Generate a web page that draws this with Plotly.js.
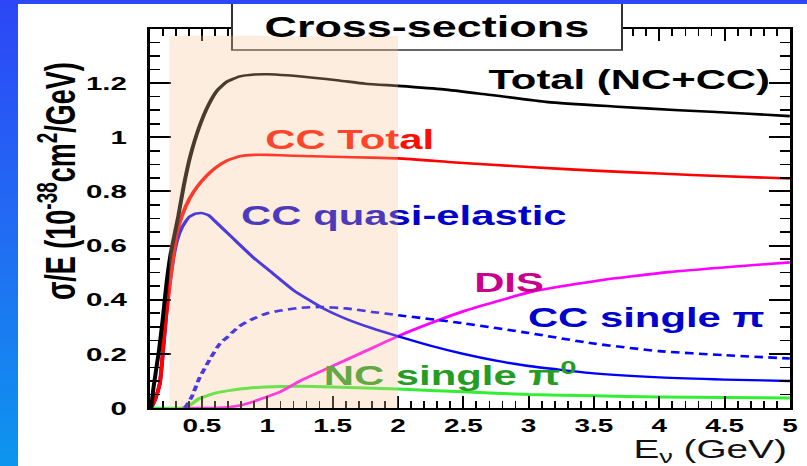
<!DOCTYPE html>
<html><head><meta charset="utf-8">
<script src="https://cdn.plot.ly/plotly-3.0.1.min.js"></script>
<style>
html,body{margin:0;padding:0;}
body{width:807px;height:466px;overflow:hidden;position:relative;background:linear-gradient(180deg,#2c47f6 0%,#2070f2 55%,#0c95ee 100%);}
#panel{position:absolute;left:18px;top:4px;width:789px;height:462px;background:#fff;overflow:hidden;}
#chart{width:509px;height:462px;transform:scaleX(1.55);transform-origin:0 0;}
</style></head>
<body><div id="panel"><div id="chart"></div></div>
<script>
// ---- data (E in GeV, sigma/E in 1e-38 cm^2/GeV) ----
const eTotal   = [0.11,0.13,0.171,0.2,0.228,0.26,0.317,0.36,0.41,0.48,0.55,0.62,0.69,0.79,0.9,1.0,1.15,1.35,1.55,1.75,2.0,2.35,2.65,3.15,3.65,4.15,4.65,5.0];
const sTotal   = [0.0,0.08,0.214,0.33,0.46,0.57,0.705,0.82,0.93,1.04,1.12,1.175,1.205,1.225,1.232,1.233,1.229,1.22,1.21,1.198,1.19,1.177,1.16,1.13,1.114,1.10,1.088,1.078];

const eCC      = [0.11,0.14,0.177,0.202,0.225,0.253,0.28,0.304,0.35,0.406,0.47,0.534,0.6,0.687,0.79,0.9,1.0,1.2,1.5,1.8,2.0,2.5,3.0,3.5,4.0,4.5,5.0];
const sCC      = [0.0,0.03,0.09,0.214,0.34,0.46,0.56,0.64,0.715,0.775,0.822,0.857,0.886,0.913,0.93,0.935,0.935,0.932,0.928,0.925,0.922,0.905,0.89,0.877,0.866,0.856,0.848];

const eQE      = [0.11,0.14,0.177,0.202,0.225,0.253,0.28,0.31,0.35,0.4,0.45,0.5,0.55,0.6,0.73,0.89,1.04,1.2,1.42,1.6,1.8,2.0,2.25,2.5,2.75,3.0,3.5,4.0,4.5,5.0];
const sQE      = [0.0,0.03,0.09,0.214,0.34,0.46,0.55,0.62,0.67,0.705,0.718,0.72,0.712,0.69,0.63,0.557,0.498,0.435,0.37,0.33,0.295,0.265,0.23,0.2,0.175,0.155,0.128,0.113,0.105,0.10];

const eSPi     = [0.37,0.42,0.48,0.56,0.64,0.69,0.78,0.87,1.0,1.1,1.25,1.4,1.6,1.8,2.0,2.5,3.0,3.5,4.0,4.5,5.0];
const sSPi     = [0.0,0.04,0.11,0.18,0.24,0.26,0.30,0.325,0.35,0.36,0.37,0.373,0.368,0.355,0.343,0.313,0.277,0.238,0.21,0.195,0.183];

const eDIS     = [0.35,0.5,0.7,0.8,0.93,1.1,1.25,1.5,1.75,2.0,2.27,2.52,3.03,3.55,4.07,4.56,5.0];
const sDIS     = [0.0,0.0,0.003,0.01,0.03,0.06,0.10,0.155,0.21,0.265,0.317,0.36,0.43,0.472,0.502,0.522,0.538];

const eNC      = [0.11,0.35,0.42,0.48,0.6,0.73,0.85,0.99,1.25,1.5,2.0,2.5,3.0,3.5,4.0,4.5,5.0];
const sNC      = [0.0,0.0,0.015,0.035,0.055,0.066,0.073,0.078,0.08,0.078,0.07,0.06,0.05,0.045,0.041,0.039,0.037];

const xTickVals = [0.5,1,1.5,2,2.5,3,3.5,4,4.5,5];
const xTickText = ['0.5','1','1.5','2','2.5','3','3.5','4','4.5','5'];
const yTickVals = [0,0.2,0.4,0.6,0.8,1.0,1.2];
const yTickText = ['0','0.2','0.4','0.6','0.8','1','1.2'];

const curveLabels = ['Total (NC+CC)','CC Total','CC quasi-elastic','DIS','CC single π','NC single π<sup>0</sup>'];
const labelColors = ['#000000','#ff0d00','#0000cc','#c8008c','#0000cc','#259d25'];
const labelE      = [3.77,1.63,2.045,2.85,3.9,2.4];
const labelS      = [1.203,0.98,0.70,0.454,0.325,0.11];

const shadeE = [0.25, 2.0];

// ---- geometry (page is drawn narrow and stretched horizontally like the reference) ----
const S = 1.55, W = 509, H = 462, L = 85, R = 11, T = 25, B = 58;
const PW = W - L - R, PH = H - T - B;
const px = xs => ((xs - 18) / S - L) / PW;
const py = ys => 1 - ((ys - 4) - T) / PH;
const FONT = 'Liberation Sans, Arial, Helvetica, sans-serif';

const line = (x, y, color, width, dash) => ({
  x, y, type:'scatter', mode:'lines', hoverinfo:'skip', showlegend:false,
  line:{color, width, dash: dash || 'solid', shape:'spline', smoothing:0.5}
});

const traces = [
  line(eNC, sNC, '#33ee33', 3),
  line(eDIS, sDIS, '#ff00ff', 2.6),
  line(eSPi, sSPi, '#0000ff', 2.6, '5.5px,3.5px'),
  line(eQE, sQE, '#0000ff', 2.4),
  line(eCC, sCC, '#ff0000', 2.6),
  line(eTotal, sTotal, '#000000', 2.6),
  {
    x: labelE, y: labelS, text: curveLabels, type:'scatter', mode:'text',
    textposition:'middle center', hoverinfo:'skip', showlegend:false,
    textfont:{family:FONT, size:27, color:labelColors, weight:'bold'}
  }
];

const axisCommon = {
  showline:true, linewidth:2, linecolor:'#000', mirror:'ticks',
  ticks:'inside', tickcolor:'#000', showgrid:false, zeroline:false, fixedrange:true
};

const layout = {
  width:W, height:H, margin:{l:L, r:R, t:T, b:B},
  paper_bgcolor:'#ffffff', plot_bgcolor:'rgba(0,0,0,0)', showlegend:false,
  xaxis: Object.assign({}, axisCommon, {
    range:[0.1,5.0], tickmode:'array', tickvals:xTickVals, ticktext:xTickText,
    ticklen:12, tickwidth:1.3, ticklabelstandoff:0,
    tickfont:{family:FONT, size:18, color:'#000', weight:'bold'},
    minor:{tickmode:'linear', tick0:0, dtick:0.1, ticks:'inside', ticklen:7, tickwidth:1.1, tickcolor:'#000'}
  }),
  yaxis: Object.assign({}, axisCommon, {
    range:[0,1.4], tickmode:'array', tickvals:yTickVals, ticktext:yTickText,
    ticklen:13.5, tickwidth:2, ticklabelstandoff:9,
    tickfont:{family:FONT, size:19, color:'#000', weight:'bold'},
    minor:{tickmode:'linear', tick0:0, dtick:0.05, ticks:'inside', ticklen:6.5, tickwidth:1.6, tickcolor:'#000'}
  }),
  shapes:[
    {type:'rect', xref:'paper', yref:'paper', x0:px(232), x1:px(622), y0:py(50), y1:py(-3),
     fillcolor:'#ffffff', line:{color:'#333333', width:1.3}, layer:'above'},
    {type:'rect', xref:'x', yref:'y', x0:shadeE[0], x1:shadeE[1], y0:0, y1:1.375,
     fillcolor:'rgba(250,197,147,0.3)', line:{width:0}, layer:'above'}
  ],
  annotations:[
    {text:'Cross-sections', xref:'paper', yref:'paper', x:px(427), y:py(27),
     xanchor:'center', yanchor:'middle', showarrow:false,
     font:{family:FONT, size:29, color:'#000', weight:'bold'}},
    {text:'σ/E (10<sup>-38</sup>cm<sup>2</sup>/GeV)', xref:'paper', yref:'paper', x:px(57), y:py(181),
     xanchor:'center', yanchor:'middle', textangle:-90, showarrow:false,
     font:{family:FONT, size:27, color:'#000', weight:'bold'}},
    {text:'E<sub>ν</sub> (GeV)', xref:'paper', yref:'paper', x:px(790), y:py(451),
     xanchor:'right', yanchor:'middle', showarrow:false,
     font:{family:FONT, size:25, color:'#111'}}
  ]
};

Plotly.newPlot('chart', traces, layout, {staticPlot:true, displayModeBar:false, responsive:false});
</script>
</body></html>
